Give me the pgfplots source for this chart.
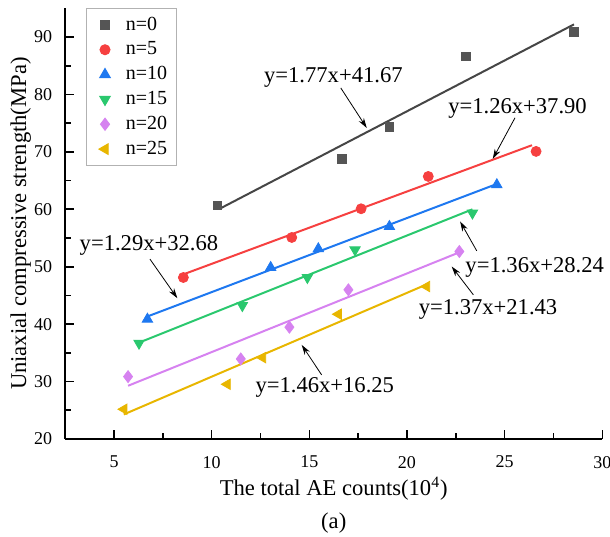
\documentclass[border=0pt]{standalone}
\usepackage{fontspec}
\setmainfont{Liberation Serif}
\usepackage{pgfplots}
\pgfplotsset{compat=1.18}
\usetikzlibrary{arrows.meta}
\definecolor{c0}{RGB}{85,85,85}
\definecolor{l0}{RGB}{70,70,70}
\definecolor{c1}{RGB}{246,64,64}
\definecolor{c2}{RGB}{30,120,240}
\definecolor{c3}{RGB}{42,200,110}
\definecolor{c4}{RGB}{214,130,240}
\definecolor{c5}{RGB}{232,182,0}
\pgfplotsset{mk/.style={only marks, legend image code/.code={\path (0pt,0pt) (13.4pt,0pt); \draw[##1] plot coordinates {(6.7pt,0pt)};}}}
\begin{document}
\begin{tikzpicture}
\begin{axis}[name=ax, scale only axis, width=268.55pt, height=215.35pt,
 xmin=2.5, xmax=30, ymin=20, ymax=95,
 axis x line=bottom, axis y line=left, axis line style={-, line width=0.8pt},
 xtick={5,10,...,30}, ytick={20,30,...,90}, minor x tick num=1, minor y tick num=1,
 tick align=inside, major tick length=4.5pt, minor tick length=3pt,
 tick style={line width=0.8pt, black},
 tick label style={font=\fontsize{9}{10}\selectfont},
 /pgf/number format/assume math mode=true,
 xticklabel style={yshift=-5pt}, yticklabel style={xshift=-3pt},
 xlabel={The total AE counts(10\textsuperscript{4})},
 ylabel={Uniaxial compressive strength(MPa)},
 label style={font=\fontsize{11.3}{13}\selectfont},
 xlabel style={at={(axis description cs:0.5,0)}, anchor=center, yshift=-25pt},
 ylabel style={at={(axis description cs:-0.083,0.5)}, anchor=center},
 clip=false,
 legend cell align=left,
 legend style={at={(axis description cs:0.038,1)}, anchor=north west, draw=gray!60, line width=0.5pt,
   font=\fontsize{10}{12}\selectfont, row sep=0.3pt, inner xsep=2.5pt, inner ysep=2pt,
   /tikz/every odd column/.append style={column sep=1.5pt}},
]
% fit lines
\addplot[l0, line width=1pt, forget plot] coordinates {(10.38,60.04) (28.55,92.2)};
\addplot[c1, line width=1pt, forget plot] coordinates {(8.55,48.67) (26.4,71.16)};
\addplot[c2, line width=1pt, forget plot] coordinates {(6.7,41.32) (24.6,64.41)};
\addplot[c3, line width=1pt, forget plot] coordinates {(6.28,36.78) (23.35,59.99)};
\addplot[c4, line width=1pt, forget plot] coordinates {(5.72,29.27) (22.68,52.5)};
\addplot[c5, line width=1pt, forget plot] coordinates {(5.5,24.28) (21.0,46.91)};
% data
\addplot[mk, mark=square*, color=c0, mark size=2.2pt] coordinates {(10.29,60.67) (16.66,68.8) (19.10,74.33) (23.01,86.64) (28.55,90.89)};
\addlegendentry{n=0}
\addplot[mk, mark=*, color=c1, mark size=2.5pt] coordinates {(8.55,48.12) (14.10,55.09) (17.65,60.09) (21.09,65.72) (26.61,70.08)};
\addlegendentry{n=5}
\addplot[mk, mark=triangle*, color=c2, mark size=3pt] coordinates {(6.71,40.86) (13.02,49.86) (15.46,53.12) (19.10,57.0) (24.6,64.27)};
\addlegendentry{n=10}
\addplot[mk, mark=triangle*, mark options={rotate=180}, color=c3, mark size=3pt] coordinates {(6.28,36.68) (11.57,43.23) (14.9,48.12) (17.34,52.94) (23.35,59.34)};
\addlegendentry{n=15}
\addplot[mk, mark=diamond*, color=c4, mark size=3pt] coordinates {(5.72,30.86) (11.49,33.94) (13.98,39.47) (17.0,45.97) (22.68,52.65)};
\addlegendentry{n=20}
\addplot[mk, mark=triangle*, mark options={rotate=90}, color=c5, mark size=3pt] coordinates {(5.51,25.18) (10.8,29.53) (12.61,34.17) (16.49,41.73) (21.01,46.55)};
\addlegendentry{n=25}
% annotations
\begin{scope}[font=\fontsize{11.3}{13}\selectfont]
\node at (axis cs:16.23,82.87) {y=1.77x+41.67};
\node at (axis cs:25.66,77.49) {y=1.26x+37.90};
\node at (axis cs:6.79,53.68) {y=1.29x+32.68};
\node at (axis cs:26.54,49.89) {y=1.36x+28.24};
\node at (axis cs:24.15,42.49) {y=1.37x+21.43};
\node at (axis cs:15.79,28.98) {y=1.46x+16.25};
\end{scope}
\begin{scope}[-{Stealth[length=5pt,width=3pt]}, line width=0.4pt, black]
\draw (axis cs:16.61,81.13) -- (axis cs:17.94,74.16);
\draw (axis cs:25.53,75.93) -- (axis cs:24.39,68.76);
\draw (axis cs:6.84,51.32) -- (axis cs:8.24,44.52);
\draw (axis cs:23.57,52.77) -- (axis cs:22.72,57.88);
\draw (axis cs:23.4,45.1) -- (axis cs:22.29,50.03);
\draw (axis cs:15.63,31.16) -- (axis cs:14.61,36.38);
\end{scope}
\end{axis}
\node[font=\fontsize{11.3}{13}\selectfont] at ([yshift=-42pt]ax.south) {(a)};
\pgfresetboundingbox
\path[use as bounding box] ([xshift=-32.6pt,yshift=-49pt]ax.south west) rectangle ([xshift=3.85pt,yshift=4.15pt]ax.north east);
\end{tikzpicture}
\end{document}
